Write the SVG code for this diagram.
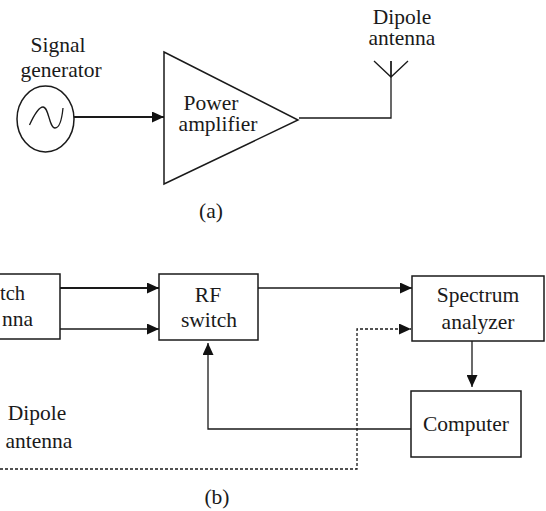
<svg xmlns="http://www.w3.org/2000/svg" width="546" height="511" viewBox="0 0 546 511">
<defs>
<marker id="arrow" viewBox="0 0 12 12" markerUnits="userSpaceOnUse" markerWidth="12" markerHeight="11" refX="12" refY="6" orient="auto" preserveAspectRatio="none"><path d="M0 0L12 6L0 12Z" fill="#111"/></marker>
</defs>
<style>
text{font-family:"Liberation Serif","Times New Roman",serif;font-size:21.5px;fill:#1a1a1a;text-anchor:middle}
.s{fill:#fff;stroke:#1a1a1a;stroke-width:1.5}
.c{fill:none;stroke:#1a1a1a;stroke-width:1.3}
.t{stroke-width:1.8}
.d{stroke-dasharray:3 2}
.e{text-anchor:end}
</style>
<rect width="546" height="511" fill="#fff"/>
<g id="connectors">
<path class="c t" d="M74 117H164" marker-end="url(#arrow)"/>
<path class="c" d="M299 118H391V61"/>
<path class="c" d="M374 61L391 77L408 61M391 61V77"/>
<path class="c t" d="M60 288H159" marker-end="url(#arrow)"/>
<path class="c" d="M60 329H159" marker-end="url(#arrow)"/>
<path class="c" d="M258 288H412" marker-end="url(#arrow)"/>
<path class="c" d="M472 341V387" marker-end="url(#arrow)"/>
<path class="c" d="M411 429H208V343" marker-end="url(#arrow)"/>
<path class="c d" d="M0 469H357V329H411" marker-end="url(#arrow)"/>
</g>
<g id="signal-generator">
<ellipse class="s" cx="45.500" cy="119" rx="28.500" ry="33"/>
<path class="c" d="M29.500 125C35 113 39 107 43 107C49 107 49 128 55 128C60 128 62 118 63 108"/>
<text x="58" y="52">Signal</text>
<text x="61" y="77">generator</text>
</g>
<g id="power-amplifier">
<path class="s" d="M164 52L298 120L164 184Z"/>
<text x="211" y="110">Power</text>
<text x="218" y="131">amplifier</text>
</g>
<g id="dipole-antenna-a">
<text x="402" y="24">Dipole</text>
<text x="402" y="45">antenna</text>
</g>
<g id="switch-antenna">
<rect class="s" x="-20" y="274" width="80" height="65"/>
<text class="e" x="25" y="300" font-size="20.5" style="font-size:20.5px">tch</text>
<text class="e" x="33" y="326">nna</text>
</g>
<g id="rf-switch">
<rect class="s" x="159" y="274" width="99" height="66"/>
<text x="208" y="302">RF</text>
<text x="209" y="327">switch</text>
</g>
<g id="spectrum-analyzer">
<rect class="s" x="412" y="276" width="132" height="65"/>
<text x="478" y="302">Spectrum</text>
<text x="478" y="329">analyzer</text>
</g>
<g id="computer">
<rect class="s" x="411" y="391" width="110" height="66"/>
<text x="466" y="431">Computer</text>
</g>
<g id="labels">
<text x="37" y="420">Dipole</text>
<text x="39" y="448">antenna</text>
<text x="211" y="218">(a)</text>
<text x="217" y="504">(b)</text>
</g>
</svg>
